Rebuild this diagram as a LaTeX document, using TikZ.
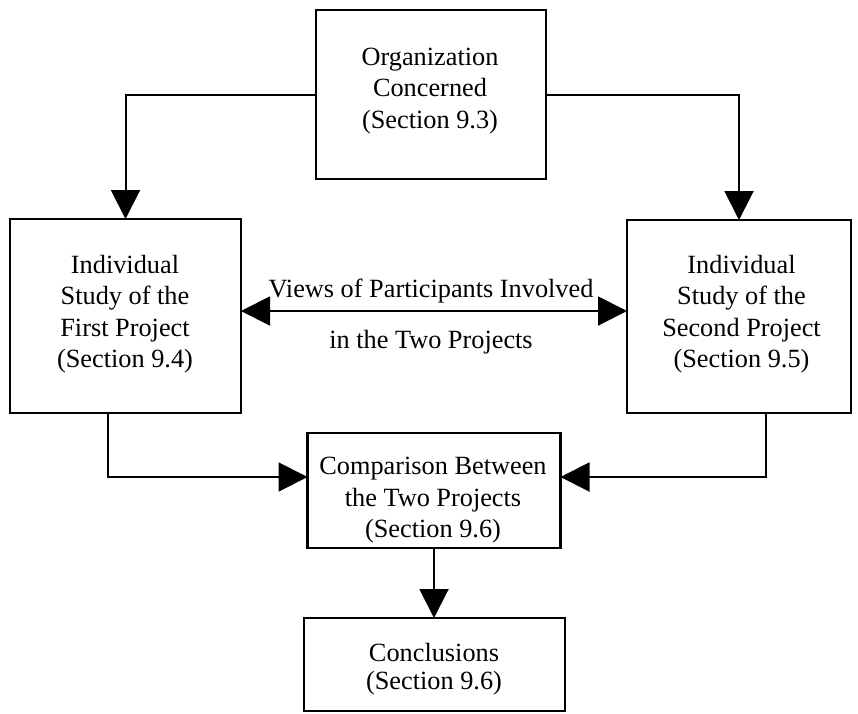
\documentclass[tikz,border=0pt]{standalone}
\usepackage{fontspec}
\setmainfont{Liberation Serif}
\usetikzlibrary{arrows.meta}
\begin{document}
\begin{tikzpicture}[x=1pt,y=-1pt,
  box/.style={draw, line width=2.6pt, inner sep=0pt, outer sep=0pt},
  txt/.style={align=center, font=\fontsize{26.3}{31.5}\selectfont, inner sep=0pt},
  conn/.style={line width=2pt, -{Triangle[length=29pt,width=29pt]}},
  dconn/.style={line width=2pt, {Triangle[length=29pt,width=29pt]}-{Triangle[length=29pt,width=29pt]}}
]
\useasboundingbox (0,0) rectangle (858,713);
% boxes
\node[box, minimum width=230pt, minimum height=169pt] (top) at (431,94.5) {};
\node[box, minimum width=231pt, minimum height=194pt] (left) at (125.5,316) {};
\node[box, minimum width=224pt, minimum height=193pt] (right) at (739,316.5) {};
\node[box, minimum width=253pt, minimum height=115pt] (cmp) at (434,490.5) {};
\node[box, minimum width=261pt, minimum height=93pt] (con) at (434.5,664.5) {};
% texts
\node[txt] (topT) at (430,91) {Organization\\Concerned\\(Section 9.3)};
\node[txt] (leftT) at (125,314) {Individual\\Study of the\\First Project\\(Section 9.4)};
\node[txt] (rightT) at (741.5,314) {Individual\\Study of the\\Second Project\\(Section 9.5)};
\node[txt] (cmpT) at (433,500.4) {Comparison Between\\the Two Projects\\(Section 9.6)};
\node[txt, font=\fontsize{26.3}{28}\selectfont] (conT) at (434,669.5) {Conclusions\\(Section 9.6)};
\node[txt, anchor=base] (midA) at (431,297) {Views of Participants Involved};
\node[txt, anchor=base] (midB) at (431,348) {in the Two Projects};
% connectors
\draw[conn] (top.west) -| (left.north);
\draw[conn] (top.east) -| (right.north);
\draw[dconn] (left.east |- 0,311) -- (right.west |- 0,311);
\coordinate (lx) at (108,477);
\coordinate (rx) at (766,477);
\draw[conn] (left.south -| lx) -- (lx) -- (cmp.west |- lx);
\draw[conn] (right.south -| rx) -- (rx) -- (cmp.east |- rx);
\draw[conn] (cmp.south) -- (cmp.south |- con.north);
\end{tikzpicture}
\end{document}
